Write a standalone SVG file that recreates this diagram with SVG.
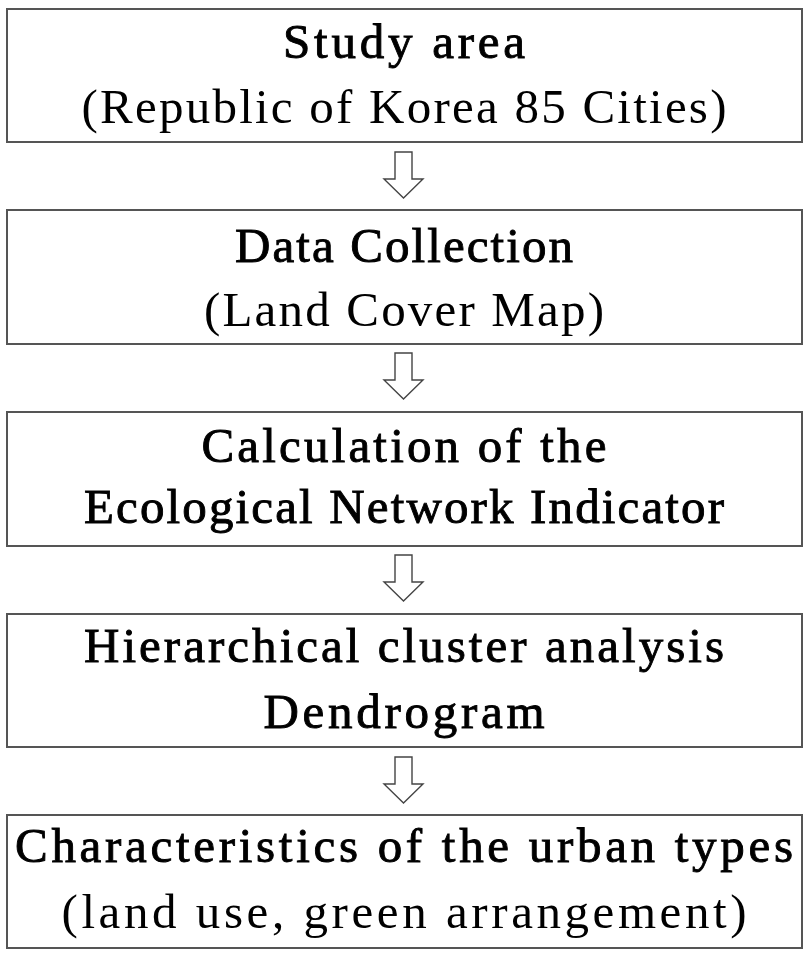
<svg xmlns="http://www.w3.org/2000/svg" xmlns:xlink="http://www.w3.org/1999/xlink" width="812" height="960" viewBox="0 0 812 960">
<style>
.box{fill:#fff;stroke:#555;stroke-width:2}
.t{font-family:"Liberation Serif","DejaVu Serif",serif;font-size:49px;fill:#000;text-anchor:middle}
.b{stroke:#000;stroke-width:0.9}
.arr{fill:#fff;stroke:#444;stroke-width:1.4;stroke-linejoin:miter}
</style>
<defs>
<path id="dn" d="M395,0 H412 V27 H423 L403.5,46 L384,27 H395 Z"/>
</defs>
<rect width="812" height="960" fill="#fff"/>
<g id="connectors">
<use xlink:href="#dn" href="#dn" class="arr" transform="translate(0,152)"/>
<use xlink:href="#dn" href="#dn" class="arr" transform="translate(0,353)"/>
<use xlink:href="#dn" href="#dn" class="arr" transform="translate(0,555)"/>
<use xlink:href="#dn" href="#dn" class="arr" transform="translate(0,757)"/>
</g>
<g id="n1">
<rect class="box" x="7" y="9" width="795" height="133"/>
<text class="t b" x="404" y="58" textLength="242" lengthAdjust="spacing">Study area</text>
<text class="t" x="404" y="123" textLength="645" lengthAdjust="spacing">(Republic of Korea 85 Cities)</text>
</g>
<g id="n2">
<rect class="box" x="7" y="210" width="795" height="134"/>
<text class="t b" x="404" y="262" textLength="338" lengthAdjust="spacing">Data Collection</text>
<text class="t" x="404" y="326" textLength="400" lengthAdjust="spacing">(Land Cover Map)</text>
</g>
<g id="n3">
<rect class="box" x="7" y="412" width="795" height="134"/>
<text class="t b" x="404" y="462" textLength="405" lengthAdjust="spacing">Calculation of the</text>
<text class="t b" x="404" y="523" textLength="640" lengthAdjust="spacing">Ecological Network Indicator</text>
</g>
<g id="n4">
<rect class="box" x="7" y="614" width="795" height="133"/>
<text class="t b" x="404" y="662" textLength="640" lengthAdjust="spacing">Hierarchical cluster analysis</text>
<text class="t b" x="404" y="728" textLength="281" lengthAdjust="spacing">Dendrogram</text>
</g>
<g id="n5">
<rect class="box" x="7" y="815" width="795" height="133"/>
<text class="t b" x="404" y="862" textLength="778" lengthAdjust="spacing">Characteristics of the urban types</text>
<text class="t" x="404" y="928" textLength="685" lengthAdjust="spacing">(land use, green arrangement)</text>
</g>
</svg>
